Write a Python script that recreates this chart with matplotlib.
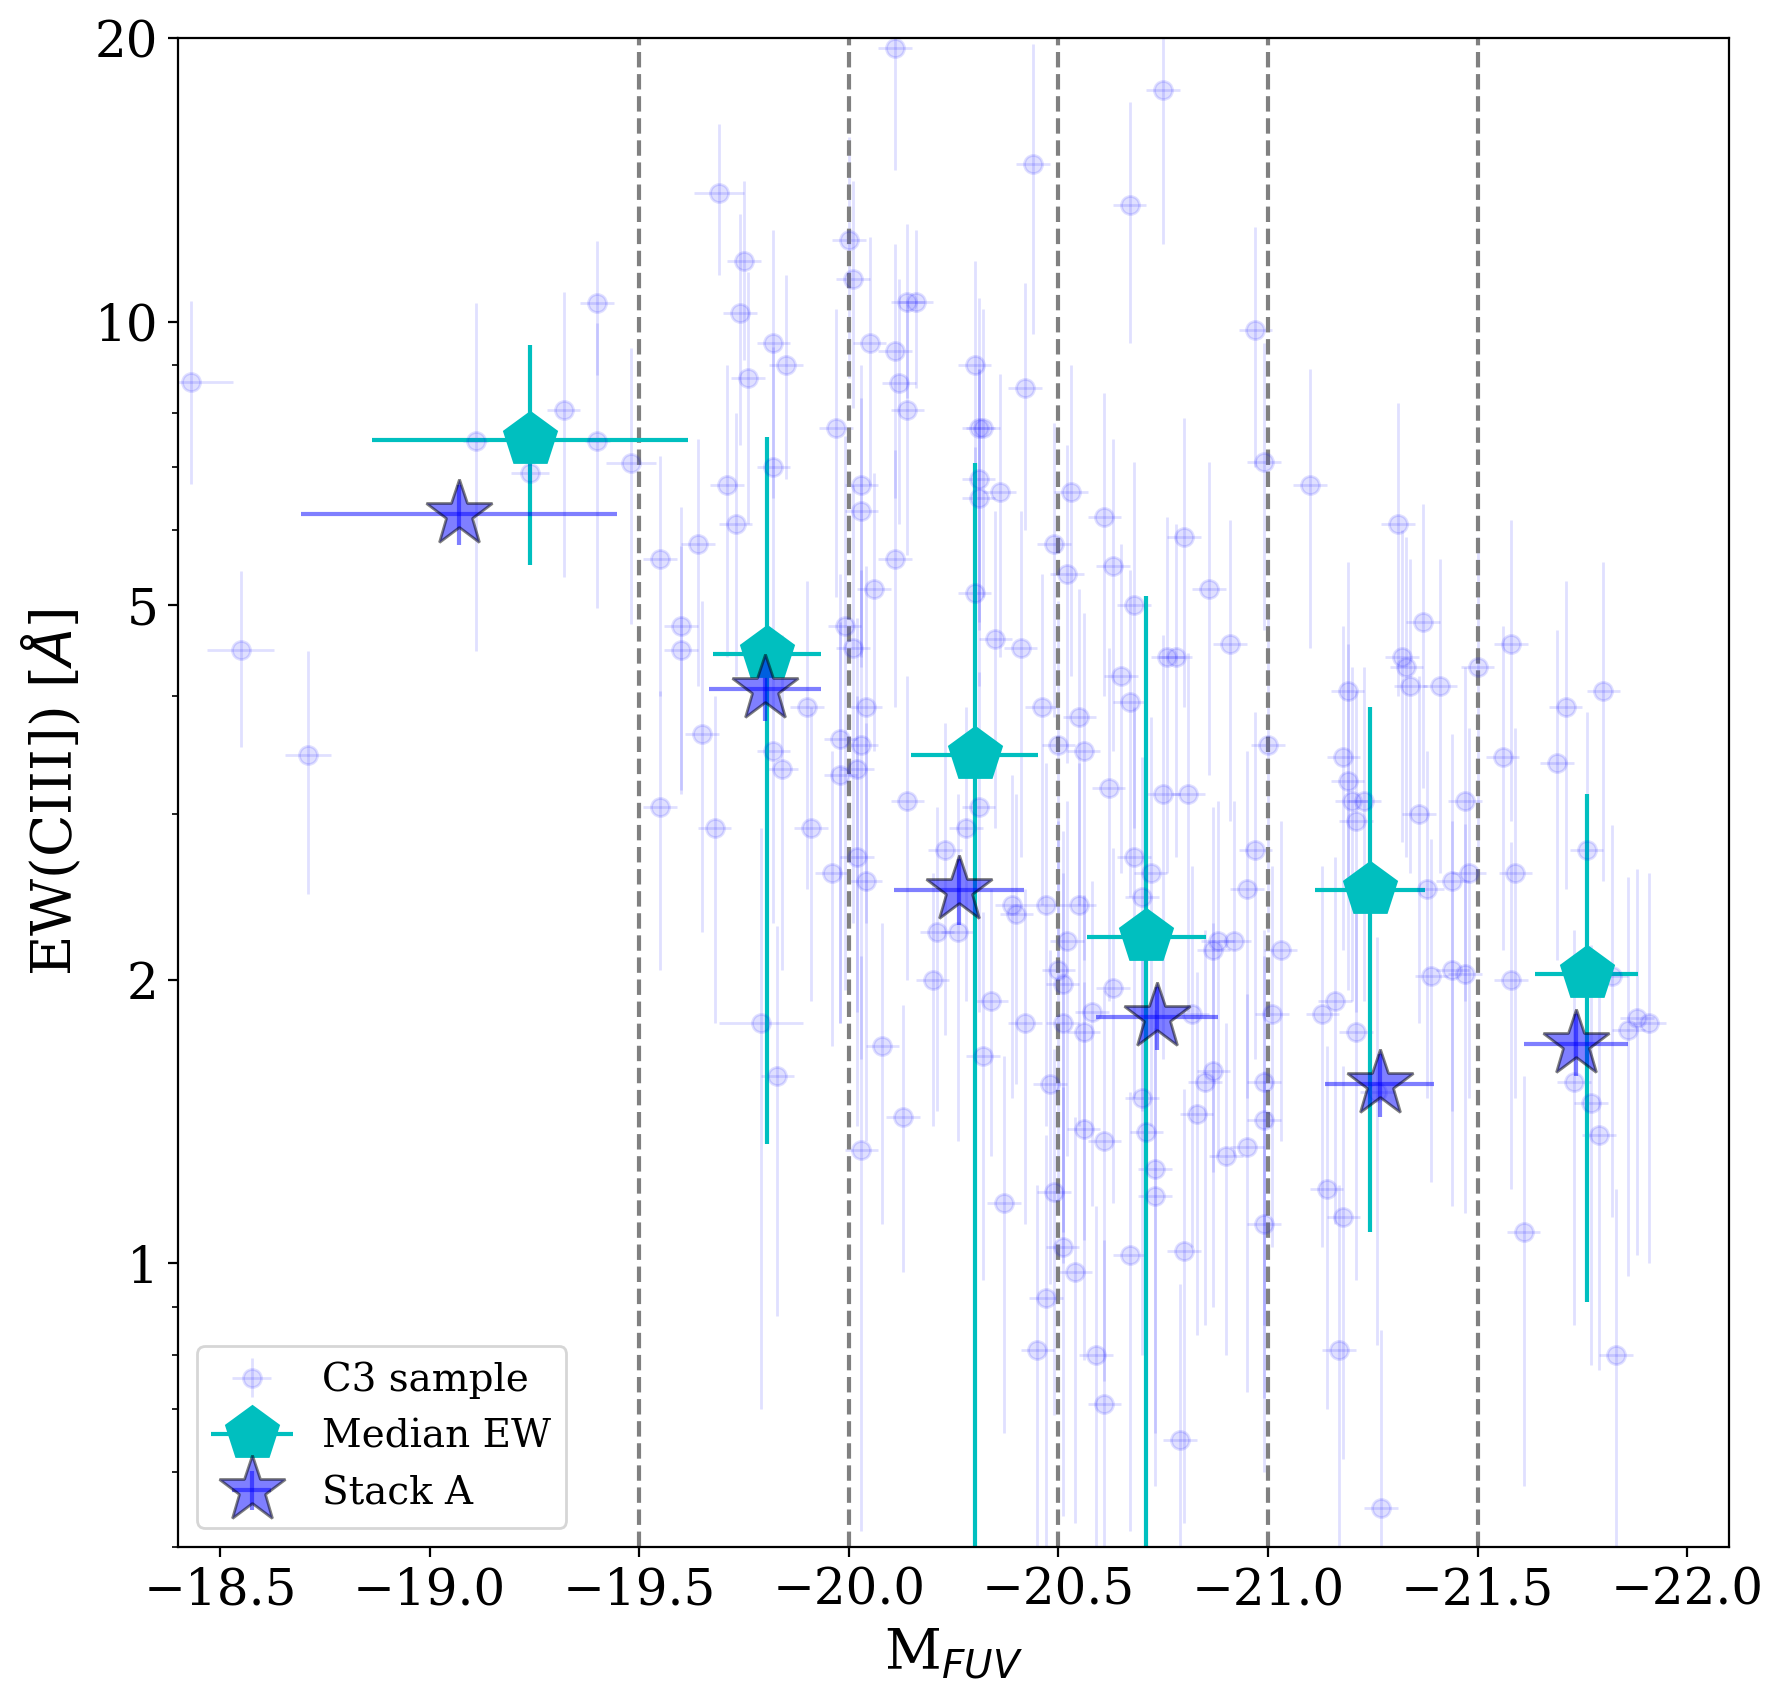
import matplotlib
matplotlib.use('Agg')
import matplotlib.pyplot as plt
from matplotlib.ticker import NullFormatter
from matplotlib.legend_handler import HandlerErrorbar

# C3 sample: M_FUV, EW(CIII]) and their errors
c3_mfuv = [
    -18.43, -18.55, -18.71, -19.11, -19.24, -19.32, -19.40, -19.40, -19.48,
    -19.55, -19.60, -19.60, -19.55, -19.64, -19.65, -19.68, -19.69, -19.71, -19.73,
    -19.75, -19.74, -19.76, -19.79, -19.82, -19.82, -19.82, -19.84, -19.83, -19.85,
    -19.90, -19.91, -19.96, -19.97, -19.98, -19.98, -19.99, -20.00, -20.01, -20.01,
    -20.03, -20.03, -20.04, -20.03, -20.02, -20.02, -20.04, -20.03, -20.05, -20.06,
    -20.11, -20.08, -20.11, -20.11, -20.12, -20.14, -20.14, -20.16, -20.14, -20.13,
    -20.23, -20.21, -20.20, -20.26, -20.28, -20.30, -20.31, -20.32, -20.31, -20.31,
    -20.30, -20.31, -20.32, -20.34, -20.35, -20.36, -20.37, -20.39, -20.40, -20.41,
    -20.42, -20.42, -20.44, -20.46, -20.47, -20.48, -20.47, -20.45, -20.49, -20.49,
    -20.50, -20.50, -20.51, -20.51, -20.51, -20.52, -20.52, -20.53, -20.55, -20.55,
    -20.56, -20.56, -20.54, -20.56, -20.58, -20.59, -20.61, -20.61, -20.61, -20.62,
    -20.63, -20.63, -20.65, -20.67, -20.67, -20.67, -20.68, -20.68, -20.70, -20.71,
    -20.70, -20.72, -20.73, -20.73, -20.75, -20.75, -20.76, -20.78, -20.80, -20.80,
    -20.79, -20.81, -20.82, -20.83, -20.85, -20.86, -20.87, -20.87, -20.88, -20.90,
    -20.91, -20.92, -20.95, -20.95, -20.97, -20.97, -20.99, -20.99, -20.99, -20.99,
    -21.00, -21.01, -21.03, -21.10, -21.13, -21.14, -21.16, -21.17, -21.18, -21.18,
    -21.19, -21.19, -21.20, -21.21, -21.21, -21.23, -21.27, -21.26, -21.31, -21.32,
    -21.33, -21.34, -21.36, -21.37, -21.38, -21.39, -21.41, -21.44, -21.44, -21.47,
    -21.47, -21.48, -21.50, -21.56, -21.58, -21.58, -21.59, -21.61, -21.69, -21.71,
    -21.73, -21.76, -21.77, -21.79, -21.80, -21.82, -21.83, -21.86, -21.88, -21.91,
]
c3_ew = [
    8.62, 4.48, 3.47, 7.47, 6.90, 8.05, 10.47, 7.47, 7.07,
    5.6, 4.75, 4.48, 3.05, 5.8, 3.65, 2.9, 13.7, 6.7, 6.1,
    11.6, 10.2, 8.7, 1.8, 9.5, 7.0, 3.5, 3.35, 1.58, 9.0,
    3.9, 2.9, 2.6, 7.7, 3.3, 3.6, 4.75, 12.2, 11.1, 4.5,
    6.7, 6.3, 3.9, 3.55, 3.35, 2.7, 2.55, 1.32, 9.5, 5.2,
    5.6, 1.7, 19.5, 9.3, 8.6, 8.05, 10.5, 10.5, 3.1, 1.43,
    2.75, 2.25, 2.0, 2.25, 2.9, 9.0, 7.7, 7.7, 6.8, 6.5,
    5.15, 3.05, 1.66, 1.9, 4.6, 6.6, 1.16, 2.4, 2.35, 4.5,
    8.5, 1.8, 14.7, 3.9, 2.4, 1.55, 0.92, 0.81, 1.19, 5.8,
    3.55, 2.05, 1.98, 1.8, 1.04, 5.4, 2.2, 6.6, 3.8, 2.4,
    1.76, 1.39, 0.98, 3.5, 1.85, 0.8, 6.2, 1.35, 0.71, 3.2,
    5.5, 1.96, 4.2, 13.3, 3.95, 1.02, 5.0, 2.7, 1.5, 1.38,
    2.45, 2.6, 1.26, 1.18, 17.6, 3.15, 4.4, 4.4, 5.9, 1.03,
    0.65, 3.15, 1.84, 1.44, 1.56, 5.2, 2.15, 1.6, 2.2, 1.3,
    4.55, 2.2, 1.33, 2.5, 9.8, 2.75, 7.1, 1.56, 1.42, 1.1,
    3.55, 1.84, 2.15, 6.7, 1.84, 1.2, 1.9, 0.81, 1.12, 3.45,
    4.05, 3.25, 3.1, 2.95, 1.76, 3.1, 0.55, 1.52, 6.1, 4.4,
    4.3, 4.1, 3.0, 4.8, 2.5, 2.02, 4.1, 2.05, 2.55, 2.03,
    3.1, 2.6, 4.3, 3.45, 4.55, 2.0, 2.6, 1.08, 3.4, 3.9,
    1.56, 2.75, 1.48, 1.37, 4.05, 2.02, 0.8, 1.77, 1.82, 1.8,
]
c3_ew_err = [
    1.9, 0.95, 1.0, 3.0, 0.4, 2.7, 1.7, 2.5, 2.3,
    1.6, 1.6, 1.3, 1.0, 1.7, 1.4, 1.1, 2.5, 2.3, 1.9,
    2.5, 2.8, 2.6, 1.1, 3.0, 2.4, 1.2, 1.3, 0.7, 2.2,
    1.4, 1.0, 0.9, 2.6, 1.5, 1.8, 2.8, 3.5, 3.0, 2.2,
    2.3, 2.0, 1.6, 1.9, 1.5, 1.3, 1.2, 0.8, 2.8, 1.7,
    1.7, 0.6, 5.0, 2.8, 2.5, 2.4, 2.2, 2.0, 1.1, 0.45,
    1.0, 0.8, 0.6, 0.9, 1.0, 2.6, 2.9, 2.6, 2.1, 2.4,
    2.2, 1.2, 0.7, 0.6, 1.7, 2.2, 0.5, 0.9, 0.8, 1.8,
    2.5, 0.7, 5.0, 1.5, 1.0, 0.6, 0.45, 0.4, 0.5, 2.0,
    1.5, 0.9, 0.9, 0.8, 0.5, 2.0, 0.9, 2.4, 1.4, 1.0,
    0.7, 0.6, 0.45, 1.4, 0.7, 0.35, 2.2, 0.6, 0.35, 1.3,
    2.0, 0.8, 1.6, 3.8, 1.5, 0.5, 2.1, 1.2, 0.7, 0.65,
    1.0, 1.2, 0.6, 0.6, 5.5, 1.5, 1.8, 1.7, 2.0, 0.5,
    0.3, 1.3, 0.8, 0.6, 0.7, 1.9, 0.9, 0.7, 0.9, 0.5,
    1.6, 0.9, 0.6, 1.0, 2.8, 1.1, 2.4, 0.7, 0.7, 0.5,
    1.3, 0.8, 0.8, 2.2, 0.8, 0.5, 0.8, 0.4, 0.5, 1.3,
    1.5, 1.3, 1.2, 1.1, 0.8, 1.2, 0.3, 0.7, 2.1, 1.6,
    1.6, 1.5, 1.2, 1.6, 1.0, 0.8, 1.5, 0.9, 1.1, 0.9,
    1.2, 1.1, 1.6, 1.3, 1.6, 0.8, 1.1, 0.5, 1.3, 1.4,
    0.7, 1.1, 0.7, 0.6, 1.5, 0.9, 0.4, 0.8, 0.8, 0.8,
]
c3_mfuv_err = [
    0.10, 0.08, 0.055, 0.03, 0.045, 0.04, 0.04, 0.03, 0.06,
    0.04, 0.04, 0.04, 0.04, 0.04, 0.04, 0.04, 0.06, 0.04, 0.04,
    0.04, 0.04, 0.04, 0.10, 0.04, 0.04, 0.04, 0.04, 0.04, 0.04,
    0.04, 0.04, 0.04, 0.04, 0.04, 0.04, 0.04, 0.04, 0.04, 0.04,
    0.04, 0.04, 0.04, 0.04, 0.04, 0.04, 0.04, 0.04, 0.04, 0.04,
    0.04, 0.04, 0.04, 0.04, 0.04, 0.04, 0.04, 0.04, 0.04, 0.04,
    0.04, 0.04, 0.04, 0.04, 0.04, 0.04, 0.04, 0.04, 0.04, 0.04,
    0.04, 0.04, 0.04, 0.04, 0.04, 0.04, 0.04, 0.04, 0.04, 0.04,
    0.04, 0.04, 0.04, 0.04, 0.04, 0.04, 0.04, 0.04, 0.04, 0.04,
    0.04, 0.04, 0.04, 0.04, 0.04, 0.04, 0.04, 0.04, 0.04, 0.04,
    0.04, 0.04, 0.04, 0.04, 0.04, 0.04, 0.04, 0.04, 0.04, 0.04,
    0.04, 0.04, 0.04, 0.04, 0.04, 0.04, 0.04, 0.04, 0.04, 0.04,
    0.04, 0.04, 0.04, 0.04, 0.04, 0.04, 0.04, 0.04, 0.04, 0.04,
    0.04, 0.04, 0.04, 0.04, 0.04, 0.04, 0.04, 0.04, 0.04, 0.04,
    0.04, 0.04, 0.04, 0.04, 0.04, 0.04, 0.04, 0.04, 0.04, 0.04,
    0.04, 0.04, 0.04, 0.04, 0.04, 0.04, 0.04, 0.04, 0.04, 0.04,
    0.04, 0.04, 0.04, 0.04, 0.04, 0.04, 0.04, 0.04, 0.04, 0.04,
    0.04, 0.04, 0.04, 0.04, 0.04, 0.04, 0.04, 0.04, 0.04, 0.04,
    0.04, 0.04, 0.04, 0.04, 0.04, 0.04, 0.04, 0.04, 0.04, 0.04,
    0.04, 0.04, 0.04, 0.04, 0.04, 0.04, 0.04, 0.04, 0.04, 0.04,
]

# median EW per M_FUV bin
med_mfuv = [-19.24, -19.805, -20.30, -20.71, -21.243, -21.76]
med_mfuv_err = [0.377, 0.128, 0.152, 0.142, 0.131, 0.122]
med_ew = [7.48, 4.44, 3.47, 2.22, 2.49, 2.03]
med_ew_err = [1.97, 3.1, 3.61, 2.89, 1.41, 1.12]

# stacked spectra
stack_mfuv = [-19.07, -19.80, -20.263, -20.735, -21.267, -21.734]
stack_mfuv_err = [0.377, 0.133, 0.155, 0.145, 0.13, 0.124]
stack_ew = [6.25, 4.07, 2.49, 1.825, 1.55, 1.71]
stack_ew_err = [0.46, 0.3, 0.2, 0.14, 0.12, 0.13]

bin_edges = [-19.5, -20.0, -20.5, -21.0, -21.5]

plt.rcParams['font.family'] = 'serif'
plt.rcParams['mathtext.fontset'] = 'dejavusans'

fig = plt.figure(figsize=(8.91, 8.515), dpi=200)
ax = fig.add_axes([0.0999, 0.0916, 0.8704, 0.8861])

ax.errorbar(c3_mfuv, c3_ew, xerr=c3_mfuv_err, yerr=c3_ew_err, fmt='o',
            color='b', alpha=0.12, ms=6.5, lw=1, label='C3 sample')
for b in bin_edges:
    ax.axvline(b, color='gray', ls='--', lw=1.5)
med = ax.errorbar(med_mfuv, med_ew, xerr=med_mfuv_err, yerr=med_ew_err,
                  fmt='p', color='c', ms=20, lw=1.5, label='Median EW')
ax.errorbar(stack_mfuv, stack_ew, xerr=stack_mfuv_err, yerr=stack_ew_err,
            fmt='*', color='b', mec='k', alpha=0.5, ms=25, lw=1.5,
            label='Stack A')

ax.set_yscale('log')
ax.set_xlim(-18.4, -22.1)
ax.set_ylim(0.5, 20)
ax.set_yticks([1, 2, 5, 10, 20], labels=['1', '2', '5', '10', '20'])
ax.yaxis.set_minor_formatter(NullFormatter())
ax.tick_params(labelsize=18)

ax.set_xlabel(r'M$_{FUV}$', fontsize=20)
ax.set_ylabel(r'EW(CIII]) [$\AA$]', fontsize=20)
ax.legend(loc='lower left', fontsize=14,
          handler_map={med: HandlerErrorbar(xerr_size=1.06, yerr_size=0.5)})

fig.savefig('out.png', dpi=200)
